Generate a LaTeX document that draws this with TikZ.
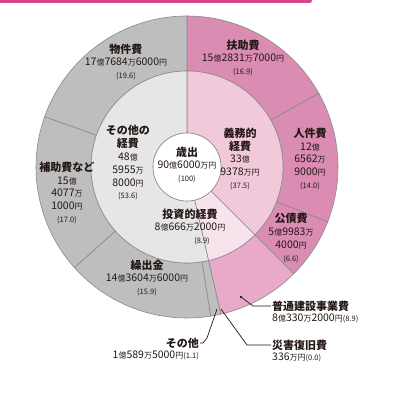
\documentclass[tikz,border=0pt]{standalone}
\usepackage{fontspec}
\setmainfont{Noto Sans CJK JP}
\usetikzlibrary{positioning}
\tikzset{>=stealth}
\definecolor{gimuout}{HTML}{DA8CB2}
\definecolor{gimumid}{HTML}{F1C9DB}
\definecolor{toushimid}{HTML}{F8E3ED}
\definecolor{futsuout}{HTML}{E8AAC8}
\definecolor{otherout}{HTML}{BEBEBE}
\definecolor{othermid}{HTML}{E6E6E6}
\definecolor{segline}{HTML}{8A8A8A}
\definecolor{barpink}{HTML}{D9458A}
\definecolor{ink}{HTML}{231815}
\newcommand{\un}[1]{{\fontsize{8}{8}\selectfont #1}}
\newcommand{\pc}[1]{{\fontsize{7.5}{8}\selectfont (#1)}}
\newcommand{\ttl}[1]{{\fontsize{11}{12}\bfseries\selectfont #1}}
\newcommand{\seg}[5]{\filldraw[fill=#5, draw=segline, line width=0.6pt] (#3:#1) arc (#3:#4:#1) -- (#4:#2) arc (#4:#3:#2) -- cycle;}
\tikzset{
  block/.style={align=center, inner sep=0pt, text=ink, font=\fontsize{10.5}{12.8}\selectfont},
  side/.style={inner sep=1pt, text=ink, font=\fontsize{10.5}{12.8}\selectfont},
  leader/.style={ink, line width=0.7pt}
}

\begin{document}
\begin{tikzpicture}[x=1pt, y=1pt]
    \useasboundingbox (-187,167) rectangle (230,-247);
    \fill[barpink, rounded corners=2.5pt] (-195,175) rectangle (125,164);
    \seg{96}{151}{90}{29.16}{gimuout}
    \seg{96}{151}{29.16}{-21.24}{gimuout}
    \seg{96}{151}{-21.24}{-45}{gimuout}
    \seg{96}{151}{-45}{-77.04}{futsuout}
    \seg{96}{151}{-77.04}{-81}{otherout}
    \seg{96}{151}{-81}{-138.24}{otherout}
    \seg{96}{151}{-138.24}{-199.44}{otherout}
    \seg{96}{151}{-199.44}{-270}{otherout}
    \seg{34}{96}{90}{-45}{gimumid}
    \seg{34}{96}{-45}{-77.04}{toushimid}
    \seg{34}{96}{-77.04}{-270}{othermid}
    \filldraw[fill=white, draw=segline, line width=0.6pt] (0,0) circle (34);

    \node[block] (saishutsu) at (0,2) {\ttl{歳出}\\90\un{億}6000\un{万円}\\\pc{100}};
    \node[block] (gimu) at (53,8) {\ttl{義務的}\\\ttl{経費}\\33\un{億}\\9378\un{万円}\\\pc{37.5}};
    \node[block] (toushi) at (3,-60) {\ttl{投資的経費}\\8\un{億}666\un{万}2000\un{円}\\\hspace*{24pt}\pc{8.9}};
    \node[block] (sonotakeihi) at (-59,4) {\ttl{その他の}\\\ttl{経費}\\48\un{億}\\5955\un{万}\\8000\un{円}\\\pc{53.6}};
    \node[block] (buken) at (-61,105) {\ttl{物件費}\\17\un{億}7684\un{万}6000\un{円}\\\pc{19.6}};
    \node[block] (fujo) at (56,109) {\ttl{扶助費}\\15\un{億}2831\un{万}7000\un{円}\\\pc{16.9}};
    \node[block] (jinken) at (123,8) {\ttl{人件費}\\12\un{億}\\6562\un{万}\\9000\un{円}\\\pc{14.0}};
    \node[block] (kousai) at (104,-71) {\ttl{公債費}\\5\un{億}9983\un{万}\\4000\un{円}\\\pc{6.6}};
    \node[block] (kuridashi) at (-40,-111) {\ttl{繰出金}\\14\un{億}3604\un{万}6000\un{円}\\\pc{15.9}};
    \node[block] (hojo) at (-120,-26) {\ttl{補助費など}\\15\un{億}\\4077\un{万}\\1000\un{円}\\\pc{17.0}};

    \node[side, anchor=west] (futsu) at (84,-139) {\ttl{普通建設事業費}};
    \node[side, anchor=north west] (futsuval) at (futsu.south west) {8\un{億}330\un{万}2000\un{円}\pc{8.9}};
    \node[side, anchor=west] (saigai) at (84,-178) {\ttl{災害復旧費}};
    \node[side, anchor=north west] (saigaival) at (saigai.south west) {336\un{万円}\pc{0.0}};
    \node[side, anchor=east] (sonota) at (13,-176) {\ttl{その他}};
    \node[side, anchor=north east] (sonotaval) at (sonota.south east) {1\un{億}589\un{万}5000\un{円}\pc{1.1}};

    \coordinate (futsudot) at (54,-130);
    \coordinate (futsubend) at (66,-139);
    \coordinate (saigaitip) at (34,-142);
    \coordinate (saigaibend) at (60,-178);
    \coordinate (sonotatip) at (30,-142);
    \coordinate (sonotabend) at (20,-171);
    \fill[ink] (futsudot) circle (1.3);
    \draw[leader] (futsudot) -- (futsubend) -- (futsu.west);
    \draw[leader] (saigaitip) -- (saigaibend) -- (saigai.west);
    \draw[leader] (sonotatip) -- (sonotabend) -- ++(-4,-5) -- (sonota.east);
\end{tikzpicture}
\end{document}
